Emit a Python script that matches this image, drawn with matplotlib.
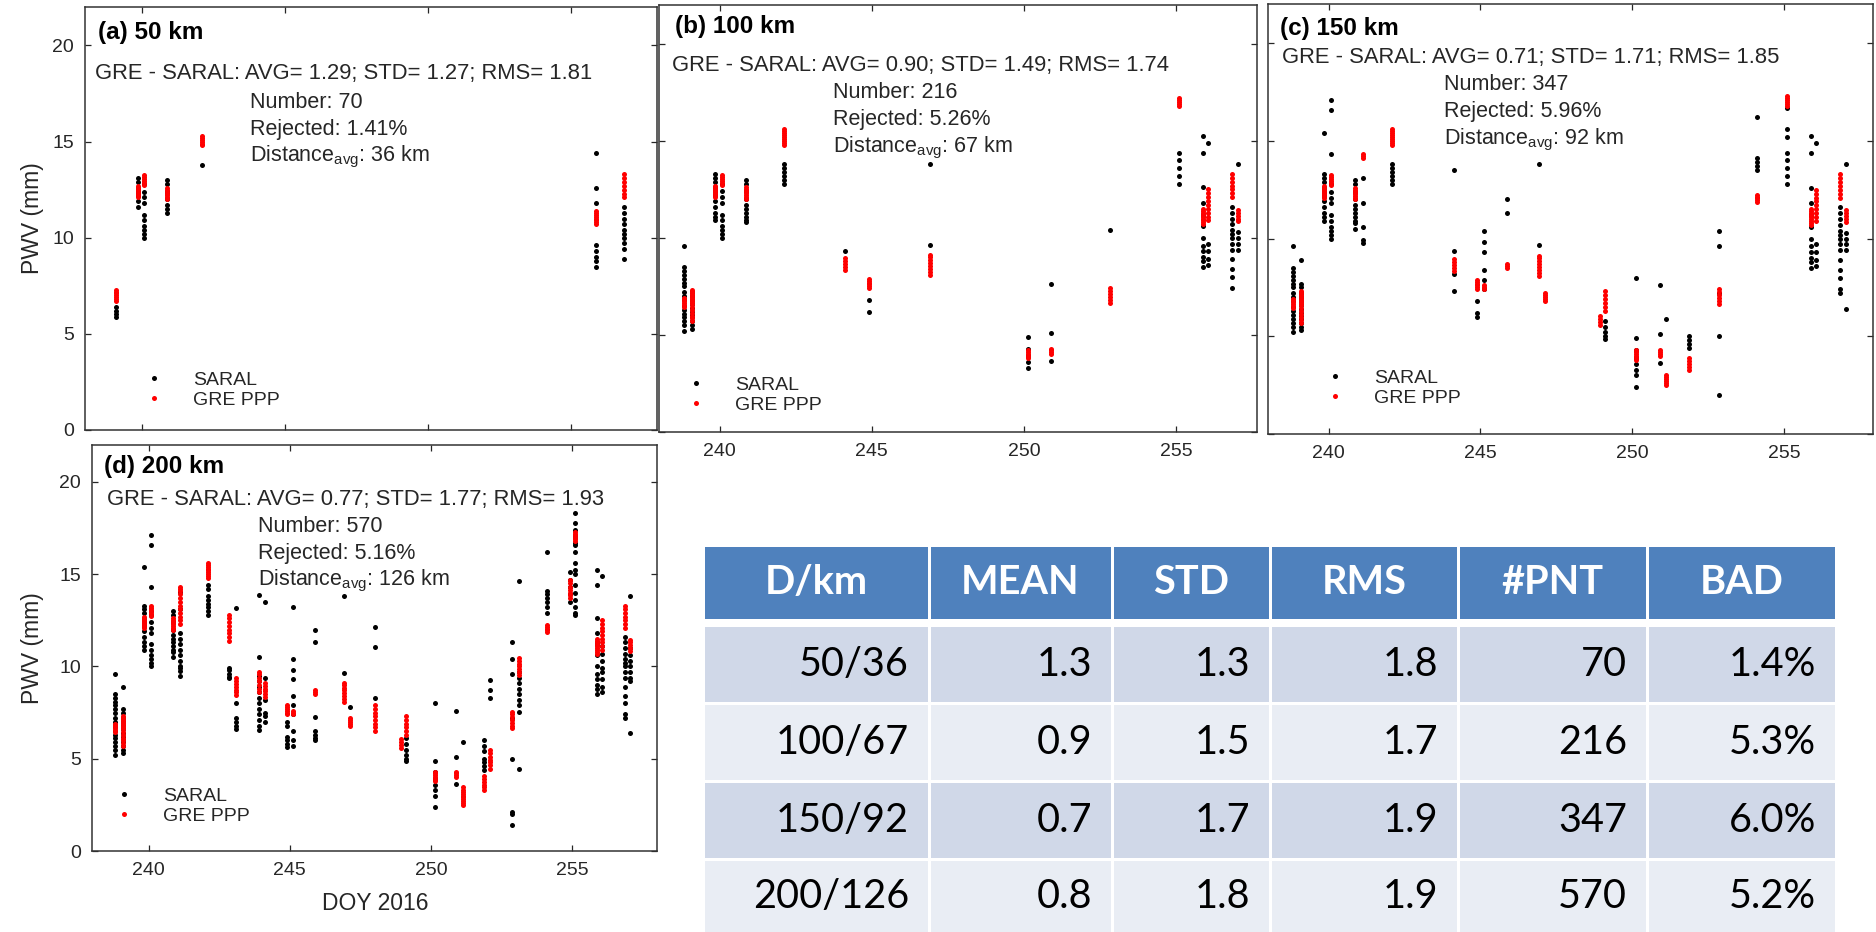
import matplotlib.pyplot as plt
from matplotlib.lines import Line2D
from matplotlib.patches import Rectangle

# PWV (mm) per satellite pass, keyed by DOY 2016.
# Passes are split by the GNSS station search radius (km) that picks them up,
# so a panel with radius R shows every group with radius <= R.
saral_50 = [
    (239.10, [6.4, 6.2, 6.05, 5.9]),
    (239.85, [13.1, 12.9, 12.6, 12.4, 12.2, 11.9, 11.6]),
    (240.08, [12.8, 12.4, 12.1, 11.8, 11.2, 10.9, 10.6, 10.4, 10.2, 10.0]),
    (240.85, [13.0, 12.8, 12.4, 12.0, 11.7, 11.5, 11.3]),
    (242.10, [13.8]),
    (255.88, [14.4, 12.6, 11.8, 9.6, 9.3, 9.0, 8.8, 8.5]),
    (256.85, [11.6, 11.3, 11.0, 10.7, 10.4, 10.2, 10.0, 9.7, 9.4, 8.9]),
]
saral_100 = [
    (238.83, [9.6, 8.5, 8.3, 8.1, 7.9, 7.7, 7.5, 7.2, 7.0, 6.8, 6.5, 6.3, 6.1, 5.9, 5.7, 5.5, 5.2]),
    (239.10, [7.2, 7.0, 6.8, 6.6, 5.7, 5.5, 5.3]),
    (239.85, [13.3, 11.3, 11.1, 10.9]),
    (240.85, [11.1, 10.9, 10.8]),
    (242.10, [13.6, 13.4, 13.2, 13.0, 12.8]),
    (244.13, [9.35]),
    (244.90, [6.8, 6.2]),
    (246.93, [13.8, 9.65]),
    (250.13, [4.9, 4.3, 3.9, 3.6, 3.3]),
    (250.90, [7.6, 5.1, 3.65]),
    (252.85, [10.4]),
    (255.10, [14.4, 14.0, 13.6, 13.2, 12.8]),
    (255.88, [15.25, 11.2, 10.6, 10.0]),
    (256.06, [14.9, 9.7, 9.3, 8.9, 8.6]),
    (256.85, [8.4, 8.0, 7.4]),
    (257.05, [13.8, 10.3, 10.0, 9.7, 9.4]),
]
saral_150 = [
    (239.10, [8.9, 7.7, 7.5]),
    (239.85, [15.4]),
    (240.08, [17.1, 16.6, 14.3]),
    (240.85, [10.5]),
    (241.13, [13.1, 11.8, 10.6, 9.9, 9.75]),
    (244.13, [13.5, 8.2, 7.3]),
    (244.90, [6.0]),
    (245.10, [10.4, 9.8, 9.3, 8.4, 7.9, 7.4]),
    (245.88, [12.0, 11.3]),
    (249.10, [5.8, 5.5, 5.2, 5.0, 4.85]),
    (250.13, [8.0, 3.0, 2.4]),
    (251.12, [5.9]),
    (251.88, [5.0, 4.8, 4.6, 4.4]),
    (252.85, [9.6, 7.2, 5.0, 2.0]),
    (254.10, [16.2, 14.1, 13.9, 13.7, 13.5]),
    (255.10, [16.7, 15.6, 15.2]),
    (256.85, [7.2]),
    (257.05, [6.4]),
]
saral_200 = [
    (240.08, [13.0]),
    (241.13, [14.05, 11.5, 11.2, 10.9, 10.3, 10.0, 9.5]),
    (242.10, [14.4, 14.2]),
    (242.85, [9.93, 9.8, 9.6, 9.45, 9.35]),
    (243.10, [13.15, 8.0, 7.2, 7.0, 6.8, 6.6]),
    (243.90, [13.87, 10.53, 9.5, 9.2, 8.9, 8.6, 8.3, 8.0, 7.7, 7.4, 7.1, 6.8, 6.55]),
    (244.13, [7.5, 7.0]),
    (244.90, [7.0, 5.8, 5.65]),
    (245.10, [13.24, 6.5, 6.0, 5.7]),
    (245.88, [7.27, 6.5, 6.3, 6.1, 6.0]),
    (247.12, [7.82]),
    (248.00, [12.15, 11.07, 8.27]),
    (249.10, [6.1]),
    (251.88, [6.0, 5.7, 5.4]),
    (252.10, [9.26, 8.72, 8.27]),
    (252.85, [11.34, 2.13, 1.4]),
    (253.10, [14.63, 9.7, 9.4, 9.1, 8.8, 8.5, 8.2, 7.9, 7.55, 4.44]),
    (254.10, [13.2, 12.9]),
    (254.93, [15.1, 14.7, 14.3, 13.9, 13.5]),
    (255.10, [18.3, 17.8, 17.4, 17.0, 16.6, 16.2, 15.0, 12.9]),
    (256.06, [11.1, 10.7, 10.3, 9.9]),
    (257.05, [11.0, 10.6, 9.2]),
]

gre_50 = [
    (239.10, [6.7, 6.8, 6.9, 7.0, 7.1, 7.2, 7.3]),
    (239.85, [12.1, 12.2, 12.3, 12.4, 12.5, 12.6, 12.7]),
    (240.08, [12.75, 12.85, 12.95, 13.05, 13.15, 13.25]),
    (240.85, [12.0, 12.1, 12.2, 12.3, 12.4, 12.5, 12.6]),
    (242.10, [14.8, 14.9, 15.0, 15.1, 15.2, 15.3]),
    (255.88, [10.7, 10.8, 10.9, 11.0, 11.1, 11.2, 11.3, 11.4]),
    (256.85, [12.1, 12.3, 12.5, 12.7, 12.9, 13.1, 13.3]),
]
gre_100 = [
    (238.83, [6.45, 6.55, 6.65, 6.75, 6.85, 6.9]),
    (239.10, [5.7, 5.85, 6.0, 6.15, 6.3, 6.45, 6.6]),
    (242.10, [15.4, 15.5, 15.6]),
    (244.13, [8.35, 8.5, 8.65, 8.8, 8.95]),
    (244.90, [7.4, 7.5, 7.6, 7.7, 7.8, 7.9]),
    (246.93, [8.1, 8.25, 8.4, 8.55, 8.7, 8.85, 9.0, 9.1]),
    (250.13, [3.8, 3.9, 4.0, 4.1, 4.2]),
    (250.90, [4.0, 4.1, 4.2, 4.3]),
    (252.85, [6.65, 6.8, 6.95, 7.1, 7.25, 7.4]),
    (255.10, [16.8, 16.9, 17.0, 17.1, 17.2]),
    (255.88, [11.5]),
    (256.06, [10.9, 11.1, 11.3, 11.5, 11.7, 11.9, 12.1, 12.3, 12.5]),
    (257.05, [10.85, 11.0, 11.15, 11.3, 11.45]),
]
gre_150 = [
    (241.13, [14.1, 14.2, 14.3]),
    (245.10, [7.4, 7.5, 7.6]),
    (245.88, [8.5, 8.6, 8.7]),
    (247.12, [6.8, 6.9, 7.0, 7.1, 7.2]),
    (248.95, [5.6, 5.75, 5.9, 6.05]),
    (249.10, [6.3, 6.5, 6.7, 6.9, 7.1, 7.3]),
    (250.13, [4.3]),
    (251.12, [2.5, 2.6, 2.7, 2.8, 2.9, 3.0]),
    (251.88, [3.3, 3.45, 3.6, 3.75, 3.9]),
    (254.10, [11.85, 11.95, 12.05, 12.15, 12.25]),
    (255.10, [17.3]),
]
gre_200 = [
    (241.13, [12.3, 12.5, 12.7, 12.9, 13.1, 13.3, 13.5, 13.7, 13.9]),
    (242.85, [11.4, 11.6, 11.8, 12.0, 12.2, 12.4, 12.6, 12.8]),
    (243.10, [8.45, 8.6, 8.75, 8.9, 9.05, 9.2, 9.35]),
    (243.90, [8.6, 8.8, 9.0, 9.2, 9.4, 9.6, 9.7]),
    (244.13, [9.1]),
    (248.00, [6.5, 6.7, 6.9, 7.1, 7.3, 7.5, 7.7, 7.9]),
    (251.12, [3.1, 3.2, 3.3, 3.45]),
    (251.88, [4.05]),
    (252.10, [4.47, 4.65, 4.8, 4.95, 5.1, 5.3, 5.47]),
    (252.85, [7.55]),
    (253.10, [9.53, 9.7, 9.85, 10.0, 10.15, 10.3, 10.44]),
    (254.93, [13.7, 13.85, 14.0, 14.15, 14.3, 14.5, 14.7]),
]

# GRE - SARAL statistics for each search radius
radius_km = [50, 100, 150, 200]
dist_avg_km = [36, 67, 92, 126]
avg_diff = [1.29, 0.90, 0.71, 0.77]
std_diff = [1.27, 1.49, 1.71, 1.77]
rms_diff = [1.81, 1.74, 1.85, 1.93]
n_points = [70, 216, 347, 570]
rejected_pct = [1.41, 5.26, 5.96, 5.16]
panel_tags = ["a", "b", "c", "d"]
table_header = ["D/km", "MEAN", "STD", "RMS", "#PNT", "BAD"]

saral_groups = [saral_50, saral_100, saral_150, saral_200]
gre_groups = [gre_50, gre_100, gre_150, gre_200]

# layout in pixels of the 1876x932 canvas
W, H = 1876, 932
panel_box = [(85, 7, 657, 430), (659, 5, 1257, 432), (1268, 4, 1873, 434), (92, 445, 657, 851)]
panel_xmax = [258.0, 257.67, 257.93, 258.0]
title_xy = [(98, 32), (675, 27), (1280, 29), (104, 467)]
stats_xy = [(95, 72), (672, 63), (1282, 55), (107, 498)]
info_xy = [(250, 100), (833, 91), (1444, 83), (258, 524)]
legend_xy = [(154, 382), (696, 387), (1335, 380), (124, 798)]

col_edges = [703, 929, 1112, 1270, 1458, 1647, 1836]
head_rows = (547, 619)
body_rows = [(627, 702), (705, 780), (783, 858), (861, 932)]

INK = "#262626"
DOT = 3.6
plt.rcParams["font.family"] = ["Liberation Sans", "DejaVu Sans"]
plt.rcParams["mathtext.fontset"] = "custom"
plt.rcParams["mathtext.rm"] = "Liberation Sans"
plt.rcParams["mathtext.it"] = "Liberation Sans:italic"
plt.rcParams["mathtext.bf"] = "Liberation Sans:bold"


def collect(groups):
    doy, pwv = [], []
    for day, values in groups:
        doy += [day] * len(values)
        pwv += values
    return doy, pwv


def frac(box, x, y):
    x0, y0, x1, y1 = box
    return (x - x0) / (x1 - x0), (y1 - y) / (y1 - y0)


fig = plt.figure(figsize=(W / 100, H / 100), dpi=100)

for k in range(4):
    box = panel_box[k]
    x0, y0, x1, y1 = box
    ax = fig.add_axes([x0 / W, 1 - y1 / H, (x1 - x0) / W, (y1 - y0) / H])

    s_groups = [g for gs in saral_groups[:k + 1] for g in gs]
    g_groups = [g for gs in gre_groups[:k + 1] for g in gs]
    sx, sy = collect(s_groups)
    gx, gy = collect(g_groups)
    ax.plot(sx, sy, ls="none", marker="o", ms=DOT, mew=0, color="black", zorder=3)
    ax.plot(gx, gy, ls="none", marker="o", ms=DOT, mew=0, color="red", zorder=4)

    ax.set_xlim(238, panel_xmax[k])
    ax.set_ylim(0, 22)
    ax.set_xticks([240, 245, 250, 255])
    ax.set_yticks([0, 5, 10, 15, 20])
    ax.tick_params(direction="in", length=4, width=0.9, top=True, right=True,
                   labelsize=14, colors=INK, pad=8)
    for sp in ax.spines.values():
        sp.set_color("#333333")
        sp.set_linewidth(1.1)

    if k in (0, 3):
        ax.set_ylabel("PWV (mm)", fontsize=16.5, color=INK)
        ax.yaxis.set_label_coords(frac(box, 44, 0)[0], 0.5)
    else:
        ax.tick_params(labelleft=False)
    if k == 0:
        ax.tick_params(labelbottom=False)
    if k == 3:
        ax.set_xlabel("DOY 2016", fontsize=16.5, color=INK)
        ax.xaxis.set_label_coords(frac(box, 375, 0)[0], frac(box, 0, 892)[1])

    tx, ty = frac(box, *title_xy[k])
    ax.text(tx, ty, f"({panel_tags[k]}) {radius_km[k]} km", transform=ax.transAxes,
            fontsize=17.5, fontweight="bold", color="black", va="center", ha="left")

    sx_, sy_ = frac(box, stats_xy[k][0], stats_xy[k][1] + 7.5)
    ax.text(sx_, sy_,
            f"GRE - SARAL: AVG= {avg_diff[k]:.2f}; STD= {std_diff[k]:.2f}; RMS= {rms_diff[k]:.2f}",
            transform=ax.transAxes, fontsize=15.8, color=INK, va="baseline", ha="left")

    lines = [f"Number: {n_points[k]}",
             f"Rejected: {rejected_pct[k]:.2f}%",
             f"Distance$_{{\\mathrm{{avg}}}}$: {dist_avg_km[k]} km"]
    for i, line in enumerate(lines):
        lx, ly = frac(box, info_xy[k][0], info_xy[k][1] + 27 * i + 7.5)
        ax.text(lx, ly, line, transform=ax.transAxes, fontsize=15.5, color=INK,
                va="baseline", ha="left")

    handles = [Line2D([], [], ls="none", marker="o", ms=DOT, mew=0, color="black"),
               Line2D([], [], ls="none", marker="o", ms=DOT, mew=0, color="red")]
    fs_px = 14 * 100 / 72
    lx, ly = frac(box, legend_xy[k][0] - fs_px / 2, legend_xy[k][1] - 11)
    ax.legend(handles, ["SARAL", "GRE PPP"], loc="upper left", bbox_to_anchor=(lx, ly),
              frameon=False, fontsize=14, borderpad=0, borderaxespad=0,
              handlelength=1.0, handletextpad=1.5, labelspacing=0.15, numpoints=1,
              labelcolor=INK)

# summary table drawn in canvas pixel coordinates
tab = fig.add_axes([0, 0, 1, 1])
tab.set_xlim(0, W)
tab.set_ylim(H, 0)
tab.axis("off")

row_colors = ["#D0D8E8", "#E9EDF4"]
for c in range(6):
    cx0, cx1 = col_edges[c], col_edges[c + 1]
    ry0, ry1 = head_rows
    tab.add_patch(Rectangle((cx0 + 1.5, ry0), cx1 - cx0 - 3, ry1 - ry0, color="#4F81BD", lw=0))
    tab.text((cx0 + cx1) / 2, (ry0 + ry1) / 2, table_header[c], color="white",
             fontsize=28.5, fontweight="bold", family="Lato", ha="center", va="center")

for r in range(4):
    cells = [f"{radius_km[r]}/{dist_avg_km[r]}", f"{avg_diff[r]:.1f}", f"{std_diff[r]:.1f}",
             f"{rms_diff[r]:.1f}", f"{n_points[r]}", f"{rejected_pct[r]:.1f}%"]
    ry0, ry1 = body_rows[r]
    for c in range(6):
        cx0, cx1 = col_edges[c], col_edges[c + 1]
        tab.add_patch(Rectangle((cx0 + 1.5, ry0), cx1 - cx0 - 3, ry1 - ry0,
                                color=row_colors[r % 2], lw=0))
        tab.text(cx1 - 20, (ry0 + ry1) / 2, cells[c], color="black", fontsize=28.5,
                 family="Lato", ha="right", va="center")

fig.savefig("out.png", dpi=100)
